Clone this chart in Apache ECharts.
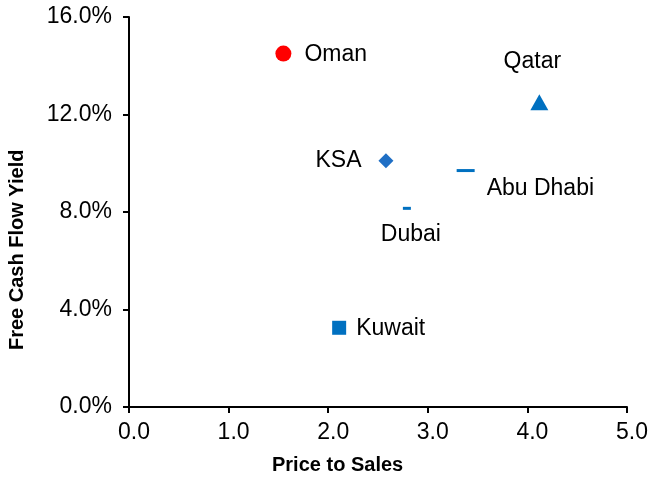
<!DOCTYPE html>
<html>
<head>
<meta charset="utf-8">
<script src="https://cdn.jsdelivr.net/npm/echarts@6/dist/echarts.min.js"></script>
<style>
html, body { margin: 0; padding: 0; background: #fff; }
#main { width: 667px; height: 479px; }
</style>
</head>
<body>
<div id="main"></div>
<script>
// data
var countries = ['Oman', 'Qatar', 'KSA', 'Abu Dhabi', 'Dubai', 'Kuwait'];
var priceToSales = [1.55, 4.12, 2.58, 3.38, 2.79, 2.11];
var fcfYield = [14.5, 12.5, 10.1, 9.7, 8.15, 3.25];
var xTicks = [0, 1, 2, 3, 4, 5];
var yTicks = [0, 4, 8, 12, 16];

// marker look for each country
var looks = {
	'Oman': { symbol: 'circle', size: 16, color: '#FF0000', pos: 'right', off: [8, 1] },
	'Qatar': { symbol: 'triangle', size: [18, 16], color: '#0070C0', pos: 'top', off: [-7, -16] },
	'KSA': { symbol: 'diamond', size: 15, color: '#1F6FC5', pos: 'left', off: [-12, 0] },
	'Abu Dhabi': { symbol: 'rect', size: [18, 3], color: '#0070C0', pos: 'right', off: [7, 18] },
	'Dubai': { symbol: 'rect', size: [8, 3], color: '#0070C0', pos: 'bottom', off: [4, 8] },
	'Kuwait': { symbol: 'rect', size: 14, color: '#0070C0', pos: 'right', off: [5, 1] }
};

var series = countries.map(function(name, i) {
	var l = looks[name];
	return {
		name: name,
		type: 'scatter',
		symbol: l.symbol,
		symbolSize: l.size,
		itemStyle: { color: l.color, opacity: 1 },
		label: {
			show: true,
			position: l.pos,
			offset: l.off,
			formatter: name,
			color: '#000',
			fontSize: 23,
			fontFamily: 'Liberation Sans'
		},
		data: [[priceToSales[i], fcfYield[i]]]
	};
});

var myChart = echarts.init(document.getElementById('main'));

var option = {
	backgroundColor: '#fff',
	animation: false,
	grid: { left: 129, right: 40, top: 17, bottom: 72 },
	xAxis: {
		type: 'value',
		min: xTicks[0],
		max: xTicks[xTicks.length - 1],
		interval: 1,
		axisLine: { lineStyle: { color: '#000', width: 2 } },
		axisTick: { show: true, length: 6, lineStyle: { color: '#000', width: 2 } },
		splitLine: { show: false },
		axisLabel: {
			color: '#000', fontSize: 23, fontFamily: 'Liberation Sans', margin: 14,
			padding: [0, 0, 0, 10],
			formatter: function(v) { return v.toFixed(1); }
		}
	},
	yAxis: {
		type: 'value',
		min: yTicks[0],
		max: yTicks[yTicks.length - 1],
		interval: 4,
		axisLine: { show: true, lineStyle: { color: '#000', width: 2 } },
		axisTick: { show: true, length: 6, lineStyle: { color: '#000', width: 2 } },
		splitLine: { show: false },
		axisLabel: {
			color: '#000', fontSize: 23, fontFamily: 'Liberation Sans', margin: 17,
			padding: [4, 0, 0, 0],
			formatter: function(v) { return v.toFixed(1) + '%'; }
		}
	},
	graphic: [
		{
			type: 'text', left: 272, top: 455,
			style: { text: 'Price to Sales', fill: '#000', font: 'bold 20px "Liberation Sans"' }
		},
		{
			type: 'text', x: 7, y: 350, rotation: Math.PI / 2,
			style: { text: 'Free Cash Flow Yield', fill: '#000', font: 'bold 20px "Liberation Sans"' }
		}
	],
	series: series
};

myChart.setOption(option);
</script>
</body>
</html>
